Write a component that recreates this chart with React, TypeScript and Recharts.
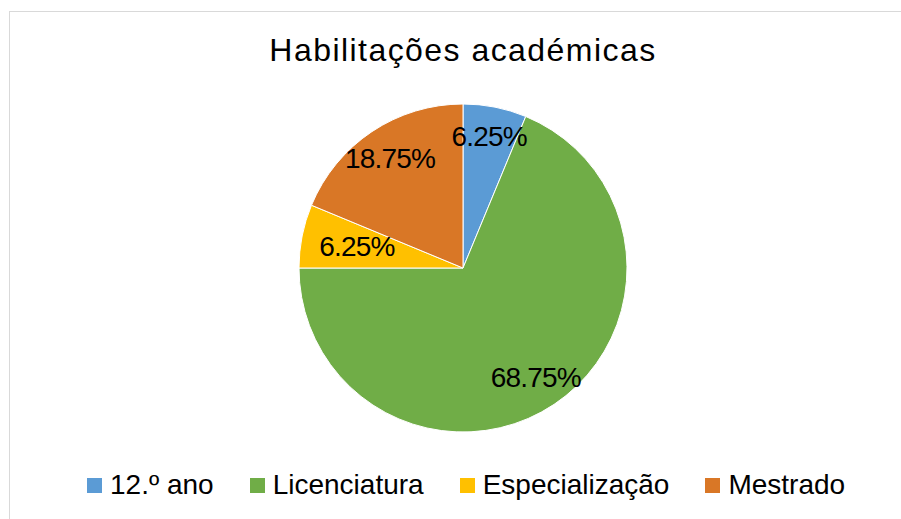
import React from 'react';
import { PieChart, Pie, Cell, Legend } from 'recharts';

const categories = ['12.º ano', 'Licenciatura', 'Especialização', 'Mestrado'];
const counts = [1, 11, 1, 3];
const percentLabels = ['6.25%', '68.75%', '6.25%', '18.75%'];
const colors = ['#5B9BD5', '#70AD47', '#FFC000', '#D97726'];
// how far out each label sits, as a share of the radius
const labelRadius = [0.82, 0.8, 0.66, 0.8];

const data = categories.map((name, i) => ({ name, value: counts[i], label: percentLabels[i] }));

const FONT = '"Liberation Sans", Arial, sans-serif';
const RADIAN = Math.PI / 180;

function renderLabel(props: any) {
  const { cx, cy, midAngle, outerRadius, index } = props;
  const r = outerRadius * labelRadius[index];
  const x = cx + r * Math.cos(-midAngle * RADIAN);
  const y = cy + r * Math.sin(-midAngle * RADIAN);
  return (
    <text
      x={x}
      y={y}
      textAnchor="middle"
      dominantBaseline="central"
      fill="#000"
      fontFamily={FONT}
      fontSize={28}
      letterSpacing={-0.8}
    >
      {data[index].label}
    </text>
  );
}

function LegendContent() {
  return (
    <div style={{ display: 'flex', justifyContent: 'flex-start', paddingLeft: 77, fontFamily: FONT, fontSize: 28, color: '#000' }}>
      {categories.map((c, i) => (
        <div key={c} style={{ display: 'flex', alignItems: 'center', marginRight: 36 }}>
          <span style={{ width: 15, height: 15, background: colors[i], marginRight: 8, display: 'inline-block' }} />
          <span>{c}</span>
        </div>
      ))}
    </div>
  );
}

export default function App() {
  return (
    <div
      style={{
        position: 'absolute',
        left: 9,
        top: 11,
        width: 892,
        height: 508,
        borderTop: '1px solid #d9d9d9',
        borderLeft: '1px solid #d9d9d9',
        background: '#fff',
      }}
    >
      <div
        style={{
          position: 'absolute',
          left: 0,
          width: 906,
          top: 20,
          textAlign: 'center',
          fontFamily: FONT,
          fontSize: 32,
          color: '#000',
          letterSpacing: 1.45,
        }}
      >
        Habilitações académicas
      </div>
      <PieChart width={891} height={507}>
        <Pie
          data={data}
          dataKey="value"
          nameKey="name"
          cx={448}
          cy={251}
          outerRadius={164}
          startAngle={90}
          endAngle={-270}
          stroke="#fff"
          strokeWidth={1}
          label={renderLabel}
          labelLine={false}
          isAnimationActive={false}
        >
          {data.map((d, i) => (
            <Cell key={d.name} fill={colors[i]} />
          ))}
        </Pie>
        <Legend content={<LegendContent />} wrapperStyle={{ top: 457, left: 0, width: 891 }} />
      </PieChart>
    </div>
  );
}
